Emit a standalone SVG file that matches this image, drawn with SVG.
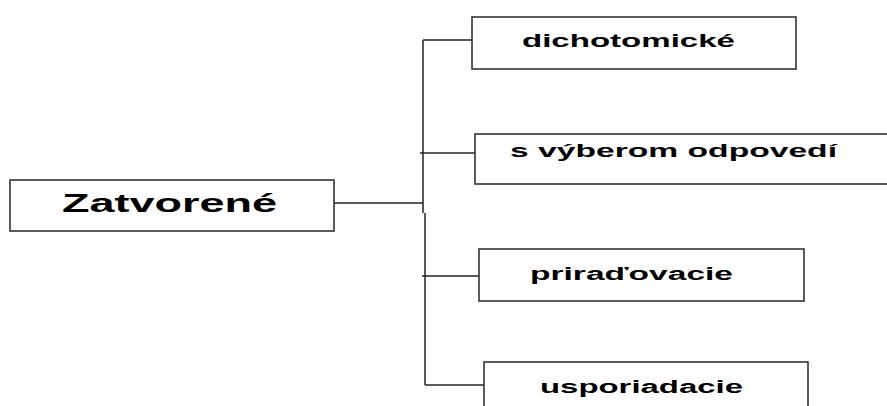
<svg xmlns="http://www.w3.org/2000/svg" width="887" height="406" viewBox="0 0 887 406">
<style>
.box{fill:#fff;stroke:#333;stroke-width:1.6}
.lbl{font-family:"Liberation Sans",Arial,sans-serif;font-weight:bold;fill:#000}
.con{stroke:#222;stroke-width:1.5;fill:none}
</style>
<rect width="887" height="406" fill="#fff"/>
<g id="connectors">
<line class="con" x1="334" y1="203" x2="423" y2="203"/>
<line class="con" x1="423" y1="40" x2="423" y2="213"/>
<line class="con" x1="425" y1="213" x2="425" y2="385"/>
<line class="con" x1="423" y1="40" x2="475" y2="40"/>
<line class="con" x1="420" y1="153" x2="475" y2="153"/>
<line class="con" x1="422" y1="276" x2="483" y2="276"/>
<line class="con" x1="425" y1="385" x2="490" y2="385"/>
</g>
<g id="zatvorene">
<rect class="box" x="10" y="180" width="324" height="51"/>
<text class="lbl" x="62" y="212" font-size="26" textLength="215" lengthAdjust="spacingAndGlyphs">Zatvorené</text>
</g>
<g id="dichotomicke">
<rect class="box" x="472" y="17" width="324" height="52"/>
<text class="lbl" x="522" y="46.5" font-size="18" textLength="213" lengthAdjust="spacingAndGlyphs">dichotomické</text>
</g>
<g id="vyberom">
<rect class="box" x="475" y="134" width="420" height="50"/>
<text class="lbl" x="510" y="157" font-size="18" textLength="327" lengthAdjust="spacingAndGlyphs">s výberom odpovedí</text>
</g>
<g id="priradovacie">
<rect class="box" x="479" y="249" width="325" height="52"/>
<text class="lbl" x="530" y="280" font-size="18" textLength="203" lengthAdjust="spacingAndGlyphs">priraďovacie</text>
</g>
<g id="usporiadacie">
<rect class="box" x="484" y="362" width="324" height="60"/>
<text class="lbl" x="540" y="393" font-size="18" textLength="203" lengthAdjust="spacingAndGlyphs">usporiadacie</text>
</g>
</svg>
